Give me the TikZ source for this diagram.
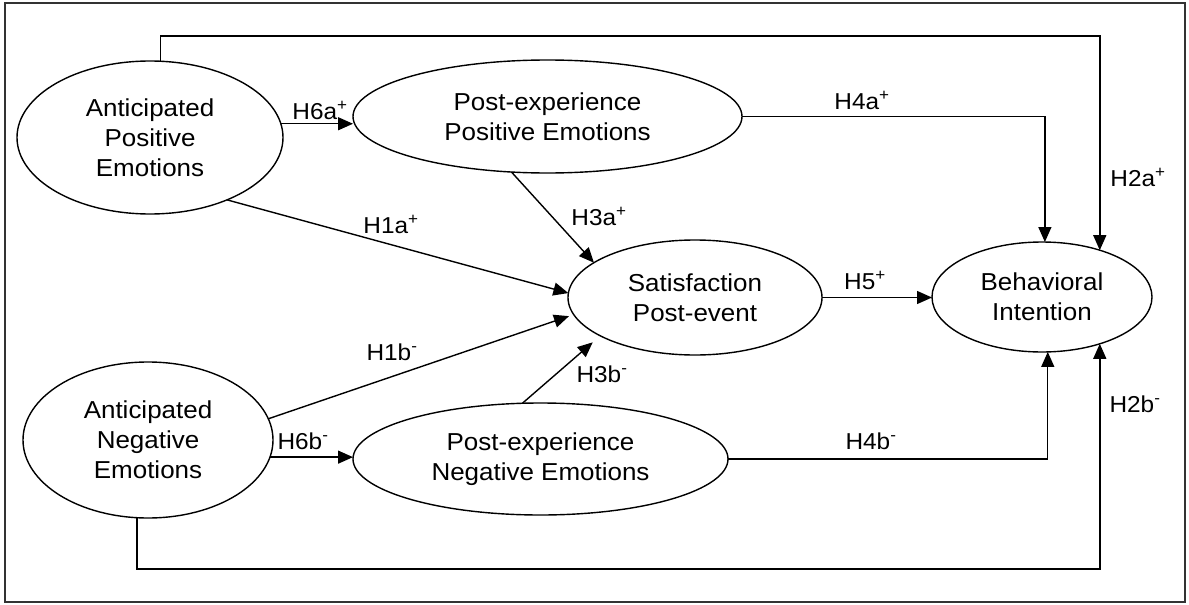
\documentclass[tikz,border=0pt]{standalone}
\usepackage{fontspec}
\usetikzlibrary{arrows.meta,shapes.geometric}
\newfontfamily\diafont{Liberation Sans}[FakeStretch=1.06]
\newcommand{\ellfont}{\diafont\fontsize{24.5}{30}\selectfont}
\newcommand{\labfont}{\diafont\fontsize{23}{28}\selectfont}
\tikzset{
  ell/.style={ellipse, draw=black, line width=1.4pt, inner sep=0pt, outer sep=0pt, align=center, font=\ellfont},
  lab/.style={inner sep=0pt, outer sep=0pt, font=\labfont},
  arr/.style={draw=black, line width=1.4pt, -{Triangle[length=15pt,width=13pt]}},
  frame/.style={draw=black!80, line width=1.8pt}
}
\begin{document}
\begin{tikzpicture}[x=1pt,y=-1pt]
\useasboundingbox (0,0) rectangle (1189,605);
\draw[frame] (5,3) rectangle (1185,602);

% nodes
\node[ell, minimum width=266pt, minimum height=153pt] (APE) at (150,137.5) {Anticipated\\Positive\\Emotions};
\node[ell, minimum width=389pt, minimum height=113pt] (PPE) at (547.5,116.5) {Post-experience\\Positive Emotions};
\node[ell, minimum width=254pt, minimum height=115pt] (SPE) at (695,297.5) {Satisfaction\\Post-event};
\node[ell, minimum width=220pt, minimum height=110pt] (BI) at (1042,297) {Behavioral\\Intention};
\node[ell, minimum width=250pt, minimum height=156pt] (ANE) at (148,440) {Anticipated\\Negative\\Emotions};
\node[ell, minimum width=375pt, minimum height=112pt] (PNE) at (540.5,459) {Post-experience\\Negative Emotions};

\coordinate (topY) at (0,36);
\coordinate (botY) at (0,569);

% connectors
\draw[arr] (APE.6) -- (APE.6 -| PPE.west);
\draw[arr] (APE.-39) -- (SPE.178);
\draw[arr] (PPE.-123) -- (SPE.161);
\draw[arr] (PPE.east) -| (BI.87);
\draw[arr] (APE.82) -- (APE.82 |- topY) -| (BI.39);
\draw[arr] (SPE.east) -- (SPE.east -| BI.west);
\draw[arr, shorten >=5pt] (ANE.10) -- (SPE.188);
\draw[arr, shorten >=10pt] (PNE.108) -- (SPE.202);
\draw[arr] (ANE.-8) -- (ANE.-8 -| PNE.west);
\draw[arr] (PNE.east) -| (BI.-84);
\draw[arr] (ANE.262) -- (ANE.262 |- botY) -| (BI.-39);

% labels
\node[lab] (l6a) at (320,110) {H6a\textsuperscript{+}};
\node[lab] (l1a) at (391,224) {H1a\textsuperscript{+}};
\node[lab] (l3a) at (599,216) {H3a\textsuperscript{+}};
\node[lab] (l4a) at (862,100) {H4a\textsuperscript{+}};
\node[lab] (l2a) at (1138,177) {H2a\textsuperscript{+}};
\node[lab] (l5)  at (865,280) {H5\textsuperscript{+}};
\node[lab] (l1b) at (392,352) {H1b\textsuperscript{-}};
\node[lab] (l6b) at (303,441) {H6b\textsuperscript{-}};
\node[lab] (l3b) at (602,374) {H3b\textsuperscript{-}};
\node[lab] (l4b) at (871,441) {H4b\textsuperscript{-}};
\node[lab] (l2b) at (1135,404) {H2b\textsuperscript{-}};
\end{tikzpicture}
\end{document}
